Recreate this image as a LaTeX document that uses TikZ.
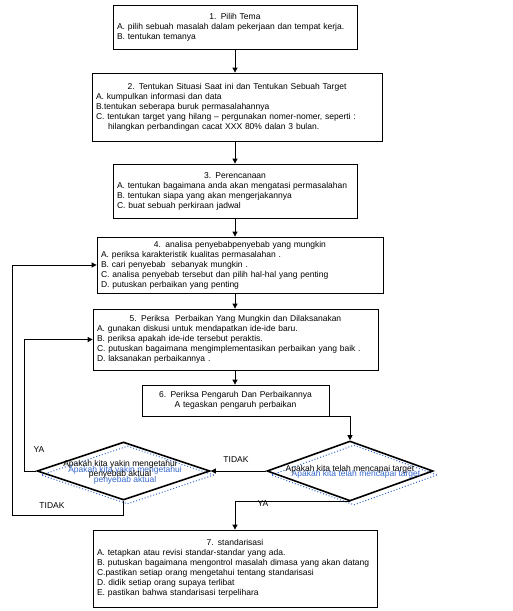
\documentclass[tikz,border=0pt]{standalone}
\usepackage{fontspec}
\setmainfont{Liberation Sans}
\usetikzlibrary{shapes.geometric,arrows.meta}

\definecolor{bayangbiru}{RGB}{51,102,204}
\newcommand{\judul}[1]{{\centering #1\par}}

\tikzset{
  langkah/.style={draw, line width=0.8pt, inner sep=0pt, align=left,
    font=\fontsize{8.5}{10}\selectfont},
  keputusan/.style={draw, diamond, line width=1.6pt, inner sep=0pt},
  bayang/.style={draw=bayangbiru, diamond, dotted, line width=1pt, inner sep=0pt},
  tanya/.style={align=center, inner sep=0pt, font=\fontsize{8.5}{10}\selectfont},
  ket/.style={inner sep=0pt, font=\fontsize{8.5}{10}\selectfont},
  panah/.style={line width=0.8pt, -{Triangle[length=5pt,width=5pt]}}
}

\begin{document}
\begin{tikzpicture}[x=1pt, y=-1pt]
    \useasboundingbox (0, 0) rectangle (513, 611);

    % langkah-langkah
    \node[langkah, minimum width=244pt, minimum height=44pt, text width=236pt] (b1) at (235, 27)
      {\judul{1. Pilih Tema}A. pilih sebuah masalah dalam pekerjaan dan tempat kerja.\\B. tentukan temanya};
    \node[langkah, minimum width=290pt, minimum height=68pt, text width=282pt] (b2) at (237, 107)
      {\judul{2. Tentukan Situasi Saat ini dan Tentukan Sebuah Target}A. kumpulkan informasi dan data\\B.tentukan seberapa buruk permasalahannya\\C. tentukan target yang hilang -- pergunakan nomer-nomer, seperti :\\\hspace*{12pt}hilangkan perbandingan cacat XXX 80\% dalan 3 bulan.};
    \node[langkah, minimum width=244pt, minimum height=54pt, text width=236pt] (b3) at (235, 191)
      {\judul{3. Perencanaan}A. tentukan bagaimana anda akan mengatasi permasalahan\\B. tentukan siapa yang akan mengerjakannya\\C. buat sebuah perkiraan jadwal};
    \node[langkah, minimum width=286pt, minimum height=56pt, text width=278pt] (b4) at (240, 265)
      {\judul{4. analisa penyebabpenyebab yang mungkin}A. periksa karakteristik kualitas permasalahan .\\B. cari penyebab \ sebanyak mungkin .\\C. analisa penyebab tersebut dan pilih hal-hal yang penting\\D. putuskan perbaikan yang penting};
    \node[langkah, minimum width=285pt, minimum height=61pt, text width=277pt] (b5) at (235.5, 339.5)
      {\judul{5. Periksa \ Perbaikan Yang Mungkin dan Dilaksanakan}A. gunakan diskusi untuk mendapatkan ide-ide baru.\\B. periksa apakah ide-ide tersebut peraktis.\\C. putuskan bagaimana mengimplementasikan perbaikan yang baik .\\D. laksanakan perbaikannya .};
    \node[langkah, minimum width=187pt, minimum height=31pt, text width=179pt, align=center] (b6) at (235.5, 400.5)
      {6. Periksa Pengaruh Dan Perbaikannya\\A tegaskan pengaruh perbaikan};
    \node[langkah, minimum width=284pt, minimum height=77pt, text width=276pt] (b7) at (235, 568.5)
      {\judul{7. standarisasi}A. tetapkan atau revisi standar-standar yang ada.\\B. putuskan bagaimana mengontrol masalah dimasa yang akan datang\\C.pastikan setiap orang mengetahui tentang standarisasi\\D. didik setiap orang supaya terlibat\\E. pastikan bahwa standarisasi terpelihara};

    % keputusan
    \node[bayang, minimum width=166pt, minimum height=60pt] (s1) at (354, 475) {};
    \node[bayang, minimum width=173pt, minimum height=58pt] (s2) at (127.5, 475) {};
    \node[keputusan, minimum width=166pt, minimum height=60pt] (d1) at (350, 471) {};
    \node[keputusan, minimum width=173pt, minimum height=58pt] (d2) at (123.5, 471) {};
    \node[tanya, text=bayangbiru] (u1) at (356, 474) {Apakah kita telah mencapai target};
    \node[tanya, text=bayangbiru] (u2) at (125, 475) {Apakah kita yakin mengetahui\\penyebab aktual};
    \node[tanya] (t1) at (350, 469.5) {Apakah kita telah mencapai target};
    \node[tanya] (t2) at (120, 469) {Apakah kita yakin mengetahui\\penyebab aktual};

    % keterangan
    \node[ket] (ya1) at (39, 450) {YA};
    \node[ket] (tidak1) at (236, 459.5) {TIDAK};
    \node[ket] (tidak2) at (52, 505.5) {TIDAK};
    \node[ket] (ya2) at (263, 504) {YA};

    % alur
    \draw[panah] (b1.south) -- (b1.south |- b2.north);
    \draw[panah] (b1.south |- b2.south) -- (b1.south |- b3.north);
    \draw[panah] (b3.south) -- (b3.south |- b4.north);
    \draw[panah] (b3.south |- b4.south) -- (b3.south |- b5.north);
    \draw[panah] (b3.south |- b5.south) -- (b3.south |- b6.north);
    \draw[panah] (b6.south east) -| (d1.north);
    \draw[panah] (d1.west) -- (d2.east);
    \draw[panah] (d2.west) -- ++(-12, 0) |- (b5.west);
    \coordinate (sudut) at (12, 515);
    \draw[panah] (d2.south) |- (sudut) |- (b4.west);
    \draw[panah] (d1.south) -| (b7.north);
\end{tikzpicture}
\end{document}
